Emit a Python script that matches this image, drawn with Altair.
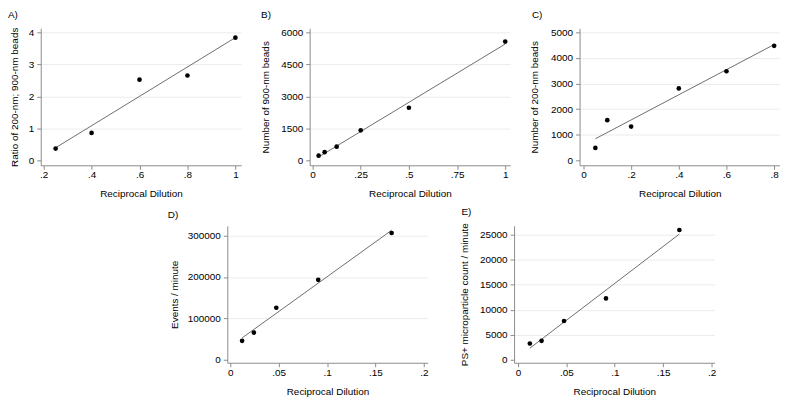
import altair as alt
import pandas as pd

# ---- data ----
a_x = [0.25, 0.4, 0.6, 0.8, 1.0]
a_y = [0.37, 0.86, 2.52, 2.65, 3.83]

b_x = [0.03125, 0.0625, 0.125, 0.25, 0.5, 1.0]
b_y = [225, 390, 645, 1410, 2465, 5560]

c_x = [0.05, 0.1, 0.2, 0.4, 0.6, 0.8]
c_y = [490, 1570, 1320, 2810, 3480, 4470]

d_x = [0.0123, 0.0244, 0.0476, 0.0909, 0.1667]
d_y = [45800, 65800, 125600, 193000, 306000]

e_x = [0.0123, 0.0244, 0.0476, 0.0909, 0.1667]
e_y = [3270, 3790, 7750, 12250, 25900]

a_xticks = [0.2, 0.4, 0.6, 0.8, 1]
a_yticks = [0, 1, 2, 3, 4]
b_xticks = [0, 0.25, 0.5, 0.75, 1]
b_yticks = [0, 1500, 3000, 4500, 6000]
c_xticks = [0, 0.2, 0.4, 0.6, 0.8]
c_yticks = [0, 1000, 2000, 3000, 4000, 5000]
de_xticks = [0, 0.05, 0.1, 0.15, 0.2]
d_yticks = [0, 100000, 200000, 300000]
e_yticks = [0, 5000, 10000, 15000, 20000, 25000]

FONT = "Liberation Sans"
W = 202
H = 138


def panel(xs, ys, xdom, ydom, xticks, yticks, ytitle, label, label_dx, label_off,
          ytitle_x, w=W, h=H):
    df = pd.DataFrame({"x": xs, "y": ys})
    x = alt.X(
        "x:Q",
        scale=alt.Scale(domain=xdom, nice=False, zero=False),
        axis=alt.Axis(
            values=xticks,
            title="Reciprocal Dilution",
            labelExpr="replace('' + datum.value, '0.', '.')",
            grid=False,
            labelBaseline="middle",
            labelPadding=5.5,
            titleBaseline="middle",
            titleY=28.5,
        ),
    )
    y = alt.Y(
        "y:Q",
        scale=alt.Scale(domain=ydom, nice=False, zero=False),
        axis=alt.Axis(
            values=yticks,
            format="d",
            title=ytitle,
            labelPadding=3,
            grid=True,
            gridOpacity={"condition": {"test": "datum.value === 0", "value": 0}, "value": 1},
            titleAngle=-90,
            titleBaseline="middle",
            titleAlign="center",
            titleX=ytitle_x,
            titleY=h / 2,
        ),
    )
    base = alt.Chart(df)
    line = base.transform_regression("x", "y").mark_line(
        color="#6e6e6e", strokeWidth=1
    ).encode(x=x, y=y)
    pts = base.mark_circle(size=22, color="black", opacity=1).encode(x=x, y=y)
    return alt.layer(line, pts).properties(
        width=w,
        height=h,
        title=alt.TitleParams(
            label, anchor="start", frame="group", dx=label_dx, offset=label_off,
            baseline="middle", fontSize=10, fontWeight="normal", font=FONT,
            color="black",
        ),
    )


pA = panel(a_x, a_y, [0.1879, 1.0242], [-0.150, 4.120], a_xticks, a_yticks,
           "Ratio of 200-nm; 900-nm beads", "A)", -33, 2, -26.5)
pB = panel(b_x, b_y, [-0.0152, 1.0253], [-225.6, 6180.5], b_xticks, b_yticks,
           "Number of 900-nm beads", "B)", -49, 2, -44)
pC = panel(c_x, c_y, [-0.0163, 0.8245], [-188, 5150.4], c_xticks, c_yticks,
           "Number of 200-nm beads", "C)", -48, 2, -45)
pD = panel(d_x, d_y, [-0.003, 0.204], [-6977, 323256], de_xticks, d_yticks,
           "Events / minute", "D)", -60, 1, -53)
pE = panel(e_x, e_y, [-0.004, 0.203], [-577, 26731], de_xticks, e_yticks,
           "PS+ microparticle count / minute", "E)", -53, 1, -50)

spacer_w = [0]
spacer = alt.Chart(pd.DataFrame({"s": spacer_w})).mark_rect(
    color="white", opacity=0
).encode(
    x=alt.value(0), x2=alt.value(98), y=alt.value(0), y2=alt.value(1)
).properties(width=98, height=H)

top = alt.hconcat(pA, pB, pC, spacing=19)
bottom = alt.hconcat(spacer, pD, pE, spacing=30)

chart = alt.vconcat(top, bottom, spacing=7).properties(
    padding={"left": 0, "top": 0, "right": 0, "bottom": 0}
).configure_axis(
    labelFont=FONT,
    titleFont=FONT,
    labelFontSize=10,
    titleFontSize=10,
    titleFontWeight="normal",
    labelColor="black",
    titleColor="black",
    domainColor="#8c8c8c",
    tickColor="#8c8c8c",
    tickSize=4,
    gridColor="#ececec",
    gridWidth=1,
).configure_view(strokeWidth=0).configure_title(font=FONT)

chart.save("out.html", embed_options={"renderer": "svg", "actions": False})
